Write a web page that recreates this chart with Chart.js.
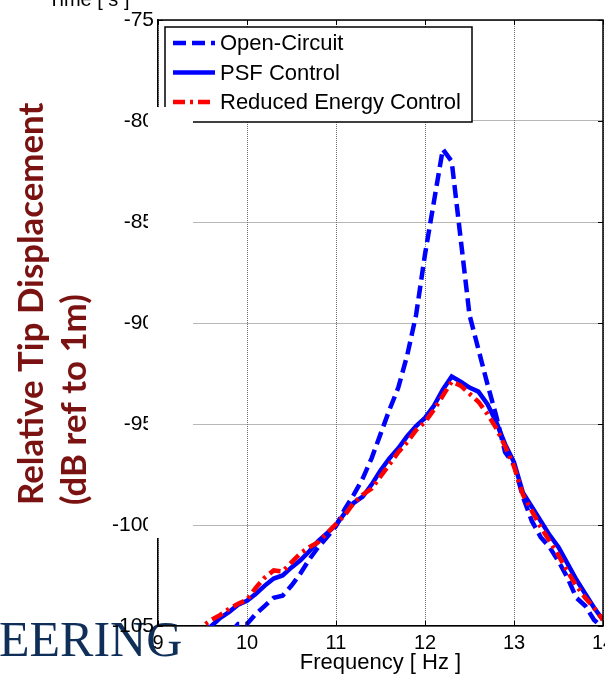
<!DOCTYPE html>
<html>
<head>
<meta charset="utf-8">
<script src="https://cdn.jsdelivr.net/npm/chart.js@4.4.1/dist/chart.umd.min.js"></script>
<style>
    html, body { margin: 0; padding: 0; background: #ffffff; }
    canvas { display: block; }
</style>
</head>
<body>
<canvas id="tipChart" width="605" height="679"></canvas>
<script>
// Frequency sweep (Hz)
const freqHz = [9.4, 9.5, 9.6, 9.7, 9.8, 9.9, 10.0, 10.1, 10.2, 10.3, 10.4, 10.5, 10.6, 10.7, 10.8, 10.9,
    11.0, 11.1, 11.2, 11.3, 11.4, 11.5, 11.6, 11.7, 11.8, 11.9, 12.0, 12.1, 12.2, 12.3, 12.4, 12.5,
    12.6, 12.7, 12.8, 12.9, 13.0, 13.1, 13.2, 13.3, 13.4, 13.5, 13.6, 13.7, 13.8, 13.9, 14.0];

// Tip displacement, dB ref to 1 m
const openCircuit = [-107.5, -107.0, -106.5, -106.0, -105.4, -104.9, -104.9, -104.4, -104.0, -103.6, -103.5, -103.0,
    -102.4, -101.7, -101.1, -100.6, -100.05, -99.2, -98.5, -97.7, -96.7, -95.5, -94.3, -93.2, -91.6, -89.6,
    -86.6, -84.0, -81.4, -82.0, -85.8, -89.6, -91.3, -93.0, -94.6, -96.4, -97.0, -98.6, -99.8, -100.6,
    -101.1, -101.8, -102.6, -103.6, -104.0, -104.7, -105.1];
const psfControl = [-105.7, -105.3, -105.0, -104.6, -104.3, -103.95, -103.75, -103.4, -103.0, -102.65, -102.5, -102.1,
    -101.75, -101.3, -100.8, -100.4, -100.0, -99.4, -98.9, -98.6, -98.0, -97.3, -96.7, -96.2, -95.6, -95.1,
    -94.7, -94.1, -93.3, -92.65, -92.9, -93.2, -93.4, -94.0, -94.9, -96.0, -96.9, -98.4, -99.1, -99.8,
    -100.5, -101.1, -101.9, -102.7, -103.4, -104.1, -104.7];
const reducedEnergy = [-105.5, -105.0, -104.7, -104.45, -104.15, -103.9, -103.7, -103.1, -102.6, -102.25, -102.3, -101.85,
    -101.4, -101.1, -100.85, -100.4, -99.95, -99.5, -98.9, -98.5, -98.2, -97.6, -97.0, -96.4, -95.9, -95.3,
    -94.9, -94.3, -93.6, -92.9, -93.1, -93.5, -93.9, -94.5, -95.2, -96.1, -97.1, -98.5, -99.3, -100.1,
    -100.8, -101.5, -102.3, -103.0, -103.6, -104.1, -104.7];

const seriesNames = ["Open-Circuit", "PSF Control", "Reduced Energy Control"];
const xTicks = [9, 10, 11, 12, 13, 14];
const yTicks = [-105, -100, -95, -90, -85, -80, -75];

const FONT = "'Liberation Sans', Arial, Helvetica, sans-serif";

function toPoints(values) {
    return freqHz.map((f, i) => ({ x: f, y: values[i] }));
}

// Axis box, inward tick marks, legend and slide overlays
const overlayPlugin = {
    id: "overlay",
    beforeDraw(chart) {
        const ctx = chart.ctx;
        ctx.save();
        ctx.fillStyle = "#0f2e58";
        ctx.font = "50px 'Liberation Serif', 'Times New Roman', serif";
        ctx.textBaseline = "alphabetic";
        ctx.textAlign = "left";
        ctx.fillText("EERING", -1, 656);
        ctx.restore();
    },
    afterDraw(chart) {
        const ctx = chart.ctx;
        const area = chart.chartArea;
        const xs = chart.scales.x;
        const ys = chart.scales.y;

        ctx.save();
        // top and right edges of the axes box
        ctx.strokeStyle = "#000";
        ctx.lineWidth = 1.5;
        ctx.beginPath();
        ctx.moveTo(area.left, area.top);
        ctx.lineTo(area.right, area.top);
        ctx.lineTo(area.right, area.bottom);
        ctx.stroke();

        // small inward ticks
        ctx.lineWidth = 1;
        ctx.beginPath();
        xTicks.forEach(v => {
            const px = Math.round(xs.getPixelForValue(v)) + 0.5;
            ctx.moveTo(px, area.top); ctx.lineTo(px, area.top + 5);
            ctx.moveTo(px, area.bottom); ctx.lineTo(px, area.bottom - 5);
        });
        yTicks.forEach(v => {
            const py = Math.round(ys.getPixelForValue(v)) + 0.5;
            ctx.moveTo(area.right, py); ctx.lineTo(area.right - 5, py);
            ctx.moveTo(area.left, py); ctx.lineTo(area.left + 5, py);
        });
        ctx.stroke();

        // legend box
        const lx = 165, ly = 27, lw = 307, lh = 95;
        ctx.fillStyle = "#fff";
        ctx.fillRect(lx, ly, lw, lh);
        ctx.strokeStyle = "#000";
        ctx.lineWidth = 1.5;
        ctx.strokeRect(lx, ly, lw, lh);
        ctx.font = "22px " + FONT;
        ctx.textBaseline = "middle";
        ctx.textAlign = "left";
        chart.data.datasets.forEach((ds, i) => {
            const rowY = 43 + i * 29.5;
            ctx.strokeStyle = ds.borderColor;
            ctx.lineWidth = ds.borderWidth;
            ctx.setLineDash(ds.borderDash || []);
            ctx.beginPath();
            ctx.moveTo(173, rowY);
            ctx.lineTo(215, rowY);
            ctx.stroke();
            ctx.setLineDash([]);
            ctx.fillStyle = "#000";
            ctx.fillText(ds.label, 220, rowY + 1);
        });

        // white panel laid over the left side of the axes
        ctx.fillStyle = "#fff";
        ctx.fillRect(148, 107, 45, 431);

        // y axis title, two lines, rotated
        const line1 = "Relative Tip Displacement";
        const line2 = "(dB ref to 1m)";
        ctx.font = "bold 100px Lato, 'Open Sans', sans-serif";
        const size = 100 * 402 / ctx.measureText(line1).width;
        ctx.font = "bold " + size.toFixed(1) + "px Lato, 'Open Sans', sans-serif";
        ctx.fillStyle = "#7a1212";
        ctx.textAlign = "left";
        ctx.textBaseline = "middle";
        [[line1, 32], [line2, 75]].forEach(([txt, cx]) => {
            ctx.save();
            ctx.translate(cx, 505);
            ctx.rotate(-Math.PI / 2);
            ctx.fillText(txt, 0, 0);
            ctx.restore();
        });

        // leftover label from the slide above
        ctx.fillStyle = "#000";
        ctx.font = "20px " + FONT;
        ctx.textBaseline = "alphabetic";
        ctx.fillText("Time [ s ]", 48, 6);
        ctx.restore();
    }
};

document.addEventListener("DOMContentLoaded", function () {
    const ctx = document.getElementById("tipChart").getContext("2d");

    new Chart(ctx, {
        type: "line",
        data: {
            datasets: [
                {
                    label: seriesNames[0],
                    data: toPoints(openCircuit),
                    borderColor: "#0000ff",
                    borderWidth: 4.5,
                    borderDash: [13, 6],
                    order: 3
                },
                {
                    label: seriesNames[1],
                    data: toPoints(psfControl),
                    borderColor: "#0000ff",
                    borderWidth: 4.5,
                    order: 2
                },
                {
                    label: seriesNames[2],
                    data: toPoints(reducedEnergy),
                    borderColor: "#ff0000",
                    borderWidth: 4.5,
                    borderDash: [12, 5, 3, 5],
                    order: 1
                }
            ]
        },
        options: {
            responsive: false,
            animation: false,
            devicePixelRatio: 1,
            layout: {
                autoPadding: false,
                padding: { top: 20, right: 2, left: 0, bottom: 0 }
            },
            elements: {
                point: { radius: 0 },
                line: { tension: 0, fill: false }
            },
            plugins: {
                legend: { display: false },
                tooltip: { enabled: false }
            },
            scales: {
                x: {
                    type: "linear",
                    min: 9,
                    max: 14,
                    afterFit: scale => {
                        scale.height = 53;
                        scale.paddingLeft = 0;
                        scale.paddingRight = 0;
                    },
                    afterBuildTicks: scale => { scale.ticks = xTicks.map(v => ({ value: v })); },
                    grid: { color: "#6e6e6e", lineWidth: 1, drawTicks: false },
                    border: { display: true, color: "#000", width: 1.5, dash: [1, 1] },
                    ticks: {
                        color: "#000",
                        font: { family: FONT, size: 20 },
                        padding: 5,
                        maxRotation: 0
                    },
                    title: {
                        display: true,
                        text: "Frequency [ Hz ]",
                        color: "#000",
                        font: { family: FONT, size: 22 },
                        padding: { top: 0, bottom: 3 }
                    }
                },
                y: {
                    min: -105,
                    max: -75,
                    afterFit: scale => {
                        scale.width = 158;
                        scale.paddingTop = 0;
                        scale.paddingBottom = 0;
                    },
                    afterBuildTicks: scale => { scale.ticks = yTicks.map(v => ({ value: v })); },
                    grid: { color: "#6e6e6e", lineWidth: 1, drawTicks: false },
                    border: { display: true, color: "#000", width: 1.5, dash: [1, 1] },
                    ticks: {
                        color: "#000",
                        font: { family: FONT, size: 21 },
                        padding: 4
                    }
                }
            }
        },
        plugins: [overlayPlugin]
    });
});
</script>
</body>
</html>
